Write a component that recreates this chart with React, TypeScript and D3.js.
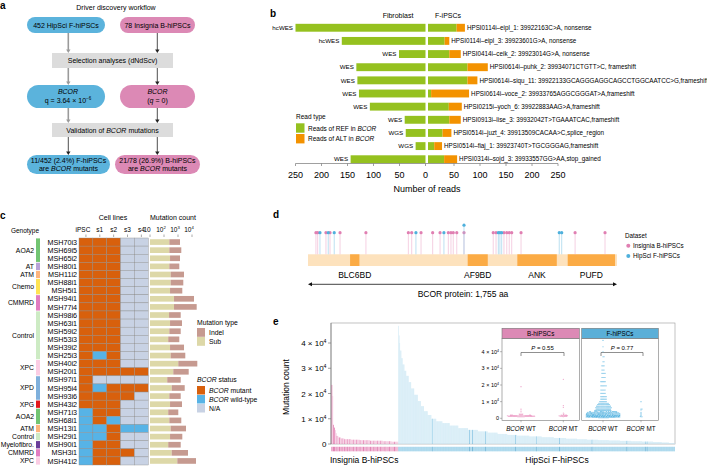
import React from "react";
import * as d3 from "d3";

const FONT = "'Liberation Sans', Arial, Helvetica, sans-serif";

// ---------- panel b: read counts
const readTypes = ["hcWES", "hcWES", "WES", "WES", "WES", "WES", "WES", "WES", "WGS", "WGS", "WES"];
const fibroRef = [250, 161, 51, 133, 131, 128, 107, 40, 38, 19, 144];
const ipscRef = [55, 32, 41, 76, 76, 6, 40, 41, 28, 12, 31];
const ipscAlt = [16, 9, 22, 39, 19, 73, 25, 22, 17, 15, 25];
const variantLabels = [
  "HPSI0114i–eipl_1: 39922163C>A, nonsense",
  "HPSI0114i–eipl_3: 39923601G>A, nonsense",
  "HPSI0414i–ceik_2: 39923014G>A, nonsense",
  "HPSI0614i–puhk_2: 39934071CTGTT>C, frameshift",
  "HPSI0614i–siqu_11: 39922133GCAGGGAGGCAGCCTGGCAATCC>G,frameshift",
  "HPSI0614i–voce_2: 39933765AGGCGGGAT>A,frameshift",
  "HPSI0215i–yoch_6: 39922883AAG>A,frameshift",
  "HPSI0913i–lise_3: 39932042T>TGAAATCAC,frameshift",
  "HPSI0514i–juzt_4: 39913509CACAA>C,splice_region",
  "HPSI0514i–fiaj_1: 39923740T>TGCGGGAG,frameshift",
  "HPSI0314i–sojd_3: 39933557GG>AA,stop_gained",
];
const readTicks = [0, 50, 100, 150, 200, 250];

// ---------- panel c: cell lines
const cellLines = [
  "MSH70i3", "MSH69i5", "MSH65i2", "MSH80i1", "MSH11i2", "MSH88i1", "MSH5i1", "MSH94i1", "MSH77i4",
  "MSH98i6", "MSH63i1", "MSH59i2", "MSH53i3", "MSH39i2", "MSH25i3", "MSH40i2", "MSH20i1", "MSH97i1",
  "MSH95i4", "MSH93i6", "MSH43i2", "MSH71i3", "MSH68i1", "MSH13i1", "MSH29i1", "MSH90i1", "MSH3i1", "MSH41i2",
];
const genotypeNames = ["AOA2", "AT", "ATM", "Chemo", "CMMRD", "Control", "XPC", "XPD", "XPG", "AOA2", "ATM", "Control", "Myelofibro.", "CMMRD", "XPC"];
const genotypeSizes = [3, 1, 1, 2, 2, 6, 2, 3, 1, 2, 1, 1, 1, 1, 1];
const genotypeColors: Record<string, string> = {
  AOA2: "#72c472", AT: "#b9a3d8", ATM: "#fdb57c", Chemo: "#ffe352", CMMRD: "#e17cc1",
  Control: "#cdebc4", XPC: "#fbcde4", XPD: "#7fb0dc", XPG: "#e3191c", "Myelofibro.": "#6a3d9a",
};
const sampleCols = ["iPSC", "s1", "s2", "s3", "s4"];
// M = BCOR mutant, W = wild-type, N = N/A
const bcorStatus = [
  "MMMNN", "MMMNN", "MMMNN", "MMMNN", "MMMNN", "MMMNN", "MMMNN", "MMMNN", "MMMNN", "MMMNN",
  "MMMNN", "MMMNN", "MMMNN", "MMMNN", "MWMNN", "MMMNN", "MMMMM", "MNNNN", "MWMMM", "MMMMN",
  "MMMNN", "WMMNN", "WMWNN", "WWMWW", "WWMNN", "WMMNN", "WMMMN", "WMMNN",
];
const subCounts = [240, 240, 270, 240, 300, 300, 270, 520, 520, 230, 270, 240, 200, 270, 300, 1050, 460, 170, 355, 240, 270, 200, 240, 300, 270, 200, 355, 890];
const indelCounts = [1150, 1480, 1120, 1000, 2380, 2090, 1760, 13400, 21100, 1330, 1660, 1320, 1040, 2420, 3020, 22900, 5350, 1390, 2660, 1320, 1660, 850, 1480, 3430, 1760, 1360, 4820, 18400];
const countTicks = [10, 100, 1000, 10000];

// ---------- panel d: BCOR lollipop
const domainNames = ["BLC6BD", "AF9BD", "ANK", "PUFD"];
const domainStart = [239, 907, 1189, 1475];
const domainEnd = [292, 1021, 1413, 1744];
const mutPosB = [45, 55, 102, 125, 182, 329, 570, 589, 642, 708, 750, 797, 812, 825, 845, 886, 1052, 1068, 1113, 1129, 1143, 1157, 1210, 1517, 1687];
const mutPosF = [68, 115, 149, 613, 772, 886, 1081, 1090, 1100, 1427, 1441];

// ---------- panel e: mutation burden (value, number of lines at that value), sorted
const bRuns: [number, number][] = [
  [23400, 1], [19000, 1], [7600, 1], [6500, 1], [5500, 1], [4300, 1], [3200, 2], [2600, 3], [2200, 4],
  [1900, 8], [1700, 10], [1500, 12], [1300, 15], [1100, 10], [900, 8],
];
const bMutantIdx = [0, 2, 3, 6, 9, 12, 15, 18, 21, 25, 29, 33, 37, 41, 45, 49, 53, 57, 62, 67, 73];
const fRuns: [number, number][] = [
  [46800, 1], [43000, 1], [40000, 1], [37000, 2], [34000, 2], [31500, 3], [29000, 3], [27000, 4], [24500, 4],
  [22000, 5], [19500, 6], [17000, 5], [15000, 5], [13000, 6], [11500, 6], [10000, 8], [9000, 10], [8300, 12],
  [7300, 14], [6300, 16], [5600, 16], [5000, 16], [4500, 16], [4000, 16], [3600, 16], [3300, 20], [3000, 20],
  [2700, 20], [2400, 20], [2100, 18], [1900, 16], [1700, 18], [1550, 18], [1400, 18], [1250, 18], [1100, 18],
  [950, 18], [800, 14], [600, 12], [400, 10],
];
const fMutantIdx = [55, 116, 121, 142, 191, 225, 263, 316, 373, 403, 406];
const burdenTicks = [0, 10000, 20000, 30000, 40000];

const expand = (runs: [number, number][]) => runs.flatMap(([v, n]) => Array(n).fill(v) as number[]);

// simple dodge layout: keep y, push points sideways until they stop overlapping
function swarm(vals: number[], cx: number, y: (v: number) => number, dist: number, maxW: number) {
  const pts = vals.map((v) => ({ v, y: y(v), x: cx }));
  const order = pts.slice().sort((a, b) => b.y - a.y);
  const placed: { x: number; y: number }[] = [];
  order.forEach((p, i) => {
    let off: number | null = null;
    for (let k = 0; k < 400; k++) {
      const o = (k % 2 ? 1 : -1) * Math.ceil(k / 2) * 0.35;
      if (Math.abs(o) > maxW) break;
      const ok = placed.every((q) => Math.abs(q.y - p.y) >= dist || (q.x - cx - o) ** 2 + (q.y - p.y) ** 2 >= dist * dist);
      if (ok) { off = o; break; }
    }
    if (off === null) off = ((i * 7.3) % (2 * maxW)) - maxW;
    p.x = cx + off;
    placed.push(p);
  });
  return pts;
}

function Sup({ base, exp, size }: { base: string; exp: string; size: number }) {
  return (
    <>
      {base}
      <tspan dy={-size * 0.4} fontSize={size * 0.65}>{exp}</tspan>
    </>
  );
}

function Arrow({ x, y1, y2, color, w }: { x: number; y1: number; y2: number; color: string; w: number }) {
  return (
    <g>
      <line x1={x} x2={x} y1={y1} y2={y2 - 3} stroke={color} strokeWidth={w} />
      <path d={`M${x - 2.2},${y2 - 3.5}L${x + 2.2},${y2 - 3.5}L${x},${y2}Z`} fill={color} />
    </g>
  );
}

function PanelA() {
  const blue = "#5bb3dc", pink = "#dc89b5", grey = "#dcdcdc";
  const lx = 68.3, rx = 157.3;
  return (
    <g fontFamily={FONT} fontSize={7} textAnchor="middle">
      <text x={0} y={9} fontSize={10} fontWeight="bold" textAnchor="start">a</text>
      <text x={116} y={9.5}>Driver discovery workflow</text>
      <rect x={27} y={17} width={78} height={16} rx={8} fill={blue} />
      <text x={66} y={27.5}>452 HipSci F-hiPSCs</text>
      <rect x={120} y={17} width={75} height={16} rx={8} fill={pink} />
      <text x={157.5} y={27.5}>78 Insignia B-hiPSCs</text>
      <Arrow x={lx} y1={33} y2={53} color="#9a9a9a" w={1.6} />
      <Arrow x={rx} y1={33} y2={53} color="#222" w={0.8} />
      <rect x={52} y={53} width={121} height={15} fill={grey} />
      <text x={112.5} y={63}>Selection analyses (dNdScv)</text>
      <Arrow x={lx} y1={68} y2={85} color="#9a9a9a" w={1.6} />
      <Arrow x={rx} y1={68} y2={85} color="#222" w={0.8} />
      <rect x={27} y={85} width={78} height={23} rx={11.5} fill={blue} />
      <text x={68} y={93.5} fontStyle="italic">BCOR</text>
      <text x={68} y={102.5}><Sup base="q = 3.64 × 10" exp="−6" size={7} /></text>
      <rect x={120} y={85} width={75} height={23} rx={11.5} fill={pink} />
      <text x={157.5} y={93.5} fontStyle="italic">BCOR</text>
      <text x={157.5} y={102.5}>(<tspan fontStyle="italic">q</tspan> = 0)</text>
      <Arrow x={lx} y1={108} y2={123} color="#9a9a9a" w={1.6} />
      <Arrow x={rx} y1={108} y2={123} color="#222" w={0.8} />
      <rect x={52} y={123} width={121} height={14} fill={grey} />
      <text x={112.5} y={132.5}>Validation of <tspan fontStyle="italic">BCOR</tspan> mutations</text>
      <Arrow x={lx} y1={137} y2={155} color="#222" w={0.8} />
      <Arrow x={rx} y1={137} y2={155} color="#222" w={0.8} />
      <rect x={27} y={155} width={83} height={19} rx={9.5} fill={blue} />
      <text x={68.5} y={162.5}>11/452 (2.4%) F-hiPSCs</text>
      <text x={68.5} y={171}>are <tspan fontStyle="italic">BCOR</tspan> mutants</text>
      <rect x={115} y={155} width={85} height={19} rx={9.5} fill={pink} />
      <text x={157.5} y={162.5}>21/78 (26.9%) B-hiPSCs</text>
      <text x={157.5} y={171}>are <tspan fontStyle="italic">BCOR</tspan> mutants</text>
    </g>
  );
}

function PanelB() {
  const green = "#95c11f", orange = "#f39200";
  const xl = d3.scaleLinear().domain([0, 250]).range([425.5, 295.5]);
  const xr = d3.scaleLinear().domain([0, 250]).range([428, 558]);
  const y = d3.scaleBand<number>().domain(d3.range(readTypes.length)).range([22.5, 164.5]).paddingInner(0.4).paddingOuter(0.1);
  const axisY = 163.5;
  return (
    <g fontFamily={FONT}>
      <text x={270} y={17} fontSize={10} fontWeight="bold">b</text>
      <text x={398} y={18} fontSize={7} textAnchor="middle">Fibroblast</text>
      <text x={448} y={18} fontSize={7} textAnchor="middle">F-iPSCs</text>
      {readTypes.map((t, i) => {
        const yy = y(i)!, h = y.bandwidth();
        const xe = xr(ipscRef[i] + ipscAlt[i]);
        return (
          <g key={i}>
            <rect x={xl(fibroRef[i])} y={yy} width={xl(0) - xl(fibroRef[i])} height={h} fill={green} />
            <rect x={xr(0)} y={yy} width={xr(ipscRef[i]) - xr(0)} height={h} fill={green} />
            <rect x={xr(ipscRef[i])} y={yy} width={xe - xr(ipscRef[i])} height={h} fill={orange} />
            <text x={xl(fibroRef[i]) - 2.5} y={yy + h / 2 + 2.2} fontSize={6.2} textAnchor="end">{t}</text>
            <text x={xe + 2} y={yy + h / 2 + 2.2} fontSize={6.3}>{variantLabels[i]}</text>
          </g>
        );
      })}
      <line x1={xl(250)} x2={xr(250)} y1={axisY} y2={axisY} stroke="#777" strokeWidth={0.7} />
      {readTicks.map((t) => (
        <g key={"l" + t}>
          <line x1={xl(t)} x2={xl(t)} y1={axisY} y2={axisY + 2.5} stroke="#777" strokeWidth={0.7} />
          <text x={xl(t)} y={178} fontSize={9} textAnchor="middle">{t}</text>
        </g>
      ))}
      {readTicks.filter((t) => t > 0).map((t) => (
        <g key={"r" + t}>
          <line x1={xr(t)} x2={xr(t)} y1={axisY} y2={axisY + 2.5} stroke="#777" strokeWidth={0.7} />
          <text x={xr(t)} y={178} fontSize={9} textAnchor="middle">{t}</text>
        </g>
      ))}
      <text x={427} y={192} fontSize={9} textAnchor="middle">Number of reads</text>
      <text x={296} y={119} fontSize={6.5}>Read type</text>
      <rect x={296} y={123.3} width={8.5} height={9.4} fill={green} />
      <rect x={296} y={134} width={8.5} height={9.4} fill={orange} />
      <text x={308} y={130.5} fontSize={6.5}>Reads of REF in <tspan fontStyle="italic">BCOR</tspan></text>
      <text x={308} y={141} fontSize={6.5}>Reads of ALT in <tspan fontStyle="italic">BCOR</tspan></text>
    </g>
  );
}

function PanelC() {
  const statusColor: Record<string, string> = { M: "#d8600c", W: "#57b3e6", N: "#c8d2e4" };
  const y = d3.scaleBand<string>().domain(cellLines).range([238, 465]);
  const x = d3.scaleBand<string>().domain(sampleCols).range([79, 148.3]);
  const xc = d3.scaleLog().domain([10, 10000]).range([150, 192]);
  const starts = d3.cumsum([0, ...genotypeSizes]);
  const rh = y.bandwidth();
  return (
    <g fontFamily={FONT}>
      <text x={0} y={219} fontSize={10} fontWeight="bold">c</text>
      <text x={113} y={220} fontSize={7} textAnchor="middle">Cell lines</text>
      <text x={173} y={220} fontSize={7} textAnchor="middle">Mutation count</text>
      <text x={25} y={233} fontSize={6.5} textAnchor="middle">Genotype</text>
      {sampleCols.map((c) => (
        <g key={c}>
          <text x={x(c)! + x.bandwidth() / 2 - (c === "iPSC" ? 3 : 0)} y={232} fontSize={6.5} textAnchor="middle">{c}</text>
          <line x1={x(c)! + x.bandwidth() / 2} x2={x(c)! + x.bandwidth() / 2} y1={234.5} y2={237} stroke="#555" strokeWidth={0.5} />
        </g>
      ))}
      {countTicks.map((t, i) => (
        <g key={t}>
          <text x={xc(t) - 3} y={232} fontSize={6.5} textAnchor="middle">
            {i === 0 ? "10" : <Sup base="10" exp={String(i + 1)} size={6.5} />}
          </text>
          <line x1={xc(t)} x2={xc(t)} y1={234.5} y2={237} stroke="#555" strokeWidth={0.5} />
        </g>
      ))}
      {genotypeNames.map((g, i) => {
        const y0 = y(cellLines[starts[i]])!;
        const h = genotypeSizes[i] * rh;
        return (
          <g key={i}>
            <rect x={36} y={y0 + 0.4} width={4} height={h - 0.8} fill={genotypeColors[g]} />
            <text x={34} y={y0 + h / 2 + 2.4} fontSize={6.8} textAnchor="end">{g}</text>
          </g>
        );
      })}
      {cellLines.map((c, i) => (
        <g key={c}>
          <text x={77} y={y(c)! + rh / 2 + 2.6} fontSize={7.2} textAnchor="end">{c}</text>
          {sampleCols.map((s, j) => (
            <rect key={s} x={x(s)} y={y(c)} width={x.bandwidth()} height={rh} fill={statusColor[bcorStatus[i][j]]} stroke="#8c8c8c" strokeWidth={0.4} />
          ))}
          <rect x={xc(10)} y={y(c)! + rh * 0.15} width={xc(subCounts[i]) - xc(10)} height={rh * 0.7} fill="#ddd8a8" />
          <rect x={xc(subCounts[i])} y={y(c)! + rh * 0.15} width={xc(subCounts[i] + indelCounts[i]) - xc(subCounts[i])} height={rh * 0.7} fill="#c69a90" />
        </g>
      ))}
      <text x={197} y={324.5} fontSize={6.8}>Mutation type</text>
      <rect x={197} y={328} width={8} height={8.8} fill="#c69a90" />
      <rect x={197} y={337} width={8} height={8.8} fill="#ddd8a8" />
      <text x={209} y={335} fontSize={6.8}>Indel</text>
      <text x={209} y={344} fontSize={6.8}>Sub</text>
      <text x={197} y={381.5} fontSize={6.8}><tspan fontStyle="italic">BCOR</tspan> status</text>
      {["M", "W", "N"].map((k, i) => (
        <g key={k}>
          <rect x={197} y={386 + i * 9} width={8} height={8.5} fill={statusColor[k]} />
          <text x={209} y={392.5 + i * 9} fontSize={6.8}>
            {k === "N" ? "N/A" : <><tspan fontStyle="italic">BCOR</tspan>{k === "M" ? " mutant" : " wild-type"}</>}
          </text>
        </g>
      ))}
    </g>
  );
}

function PanelD() {
  const x = d3.scaleLinear().domain([0, 1755]).range([308, 617]);
  const pinkDot = "#e07fb2", blueDot = "#4fb0dc";
  const barTop = 254.3, barH = 11.7;
  const seen = new Map<number, number>();
  const muts = [
    ...mutPosB.map((p) => ({ p, c: "B" })),
    ...mutPosF.map((p) => ({ p, c: "F" })),
  ].map((m) => {
    const lvl = seen.get(m.p) ?? 0;
    seen.set(m.p, lvl + 1);
    return { ...m, lvl };
  });
  return (
    <g fontFamily={FONT}>
      <text x={273} y={218} fontSize={10} fontWeight="bold">d</text>
      <rect x={x(0)} y={barTop} width={x(1755) - x(0)} height={barH} fill="#fde2bd" />
      {domainNames.map((d, i) => (
        <g key={d}>
          <rect x={x(domainStart[i])} y={barTop} width={x(domainEnd[i]) - x(domainStart[i])} height={barH} fill="#fbab45" />
          <text x={(x(domainStart[i]) + x(domainEnd[i])) / 2} y={277.5} fontSize={8.5} textAnchor="middle">{d}</text>
        </g>
      ))}
      {muts.map((m, i) => {
        const dy = 232.7 - m.lvl * 7.5;
        const col = m.c === "B" ? pinkDot : blueDot;
        return (
          <g key={i}>
            <line x1={x(m.p)} x2={x(m.p)} y1={dy} y2={barTop} stroke={m.c === "B" ? "#eeb0cf" : "#8fcbe8"} strokeWidth={0.6} />
            <circle cx={x(m.p)} cy={dy} r={1.6} fill={col} />
          </g>
        );
      })}
      <line x1={x(0) + 2} x2={x(1755) - 2} y1={284.3} y2={284.3} stroke="#111" strokeWidth={0.8} />
      <path d={`M${x(0)},284.3l4,-2l0,4Z`} fill="#111" />
      <path d={`M${x(1755)},284.3l-4,-2l0,4Z`} fill="#111" />
      <text x={463} y={296.5} fontSize={8.5} textAnchor="middle">BCOR protein: 1,755 aa</text>
      <text x={625} y={237.5} fontSize={6.3}>Dataset</text>
      <circle cx={628.3} cy={245.7} r={2} fill={pinkDot} />
      <circle cx={628.3} cy={256} r={2} fill={blueDot} />
      <text x={633} y={248} fontSize={6.3}>Insignia B-hiPSCs</text>
      <text x={633} y={258.3} fontSize={6.3}>HipSci F-hiPSCs</text>
    </g>
  );
}

function PanelE() {
  const bVals = expand(bRuns);
  const fVals = expand(fRuns);
  const bMut = new Set(bMutantIdx), fMut = new Set(fMutantIdx);
  const y = d3.scaleLinear().domain([0, 40000]).range([444, 343]);
  const xb = d3.scaleBand<number>().domain(d3.range(bVals.length)).range([331.5, 398.3]).paddingInner(0.12);
  const xf = d3.scaleBand<number>().domain(d3.range(fVals.length)).range([398.3, 675]).paddingInner(0.1);
  const yi = d3.scaleLinear().domain([0, 40000]).range([418.3, 351.7]);
  const pinkBar = "#f3c3dc", pinkMut = "#e27aae", blueBar = "#cde8f4", blueMut = "#5aaed8";
  const groups = [
    { vals: bVals.filter((_, i) => !bMut.has(i)), cx: 521, col: "#e882b6", w: 14 },
    { vals: bVals.filter((_, i) => bMut.has(i)), cx: 563.3, col: "#e882b6", w: 12 },
    { vals: fVals.filter((_, i) => !fMut.has(i)), cx: 603, col: "#56b4e0", w: 17 },
    { vals: fVals.filter((_, i) => fMut.has(i)), cx: 641, col: "#56b4e0", w: 11 },
  ];
  const panels = [
    { x0: 502, x1: 579.3, label: "B-hiPSCs", fill: "#dc89b5", p: "0.55", a: 521, b: 564 },
    { x0: 581.7, x1: 658.3, label: "F-hiPSCs", fill: "#5aafd8", p: "0.77", a: 601, b: 643 },
  ];
  return (
    <g fontFamily={FONT}>
      <text x={273} y={324.5} fontSize={10} fontWeight="bold">e</text>
      <text transform="translate(289,387) rotate(-90)" fontSize={8.5} textAnchor="middle">Mutation count</text>
      <rect x={331} y={323} width={344} height={121} fill="none" stroke="#999" strokeWidth={0.6} />
      {bVals.map((v, i) => (
        <rect key={"b" + i} x={xb(i)} y={y(v)} width={xb.bandwidth()} height={y(0) - y(v)} fill={bMut.has(i) ? pinkMut : pinkBar} />
      ))}
      {fVals.map((v, i) => (
        <rect key={"f" + i} x={xf(i)} y={Math.max(y(v), 323.5)} width={xf.bandwidth()} height={y(0) - Math.max(y(v), 323.5)} fill={fMut.has(i) ? blueMut : blueBar} />
      ))}
      {bVals.map((_, i) => (
        <rect key={"sb" + i} x={xb(i)} y={446.8} width={xb.bandwidth()} height={4.5} fill={bMut.has(i) ? "#d9609f" : "#eaa0c6"} />
      ))}
      {fVals.map((_, i) => (
        <rect key={"sf" + i} x={xf(i)} y={446.8} width={xf.bandwidth()} height={4.5} fill={fMut.has(i) ? "#2f8fc0" : "#8fcbe6"} />
      ))}
      <line x1={331} x2={331} y1={323} y2={444} stroke="#777" strokeWidth={0.7} />
      {burdenTicks.map((t) => (
        <g key={t}>
          <line x1={328} x2={331} y1={y(t)} y2={y(t)} stroke="#777" strokeWidth={0.7} />
          <text x={326.5} y={y(t) + 3} fontSize={8} textAnchor="end">
            {t === 0 ? "0" : <Sup base={`${t / 10000} × 10`} exp="4" size={8} />}
          </text>
        </g>
      ))}
      <text x={330} y={463} fontSize={8.5}>Insignia B-hiPSCs</text>
      <text x={557} y={463} fontSize={8.5} textAnchor="middle">HipSci F-hiPSCs</text>

      {panels.map((p) => (
        <g key={p.label}>
          <rect x={p.x0} y={338.3} width={p.x1 - p.x0} height={82} fill="#fff" stroke="#777" strokeWidth={0.6} />
          <rect x={p.x0} y={328.3} width={p.x1 - p.x0} height={10} fill={p.fill} stroke="#777" strokeWidth={0.6} />
          <text x={(p.x0 + p.x1) / 2} y={335.8} fontSize={6.3} textAnchor="middle">{p.label}</text>
          <path d={`M${p.a},356V352.5H${p.b}V356`} fill="none" stroke="#444" strokeWidth={0.6} />
          <text x={(p.a + p.b) / 2} y={349.8} fontSize={6} textAnchor="middle"><tspan fontStyle="italic">P</tspan> = {p.p}</text>
        </g>
      ))}
      {burdenTicks.map((t) => (
        <g key={"i" + t}>
          <line x1={500} x2={502} y1={yi(t)} y2={yi(t)} stroke="#777" strokeWidth={0.5} />
          <text x={499} y={yi(t) + 2} fontSize={5.5} textAnchor="end">
            {t === 0 ? "0" : <Sup base={`${t / 10000} × 10`} exp="4" size={5.5} />}
          </text>
        </g>
      ))}
      {groups.map((g, gi) => (
        <g key={gi}>
          <line x1={g.cx} x2={g.cx} y1={420.3} y2={422.3} stroke="#777" strokeWidth={0.5} />
          <text x={g.cx} y={430.5} fontSize={6.3} textAnchor="middle">
            <tspan fontStyle="italic">BCOR</tspan>{gi % 2 === 0 ? " WT" : " MT"}
          </text>
          {swarm(g.vals, g.cx, yi, 0.85, g.w).map((p, i) => (
            <circle key={i} cx={p.x} cy={p.y} r={0.55} fill={g.col} opacity={0.85} />
          ))}
        </g>
      ))}
    </g>
  );
}

export default function App() {
  return (
    <svg width={707} height={466} style={{ position: "absolute", left: 0, top: 0, background: "#fff" }}>
      <PanelA />
      <PanelB />
      <PanelC />
      <PanelD />
      <PanelE />
    </svg>
  );
}
